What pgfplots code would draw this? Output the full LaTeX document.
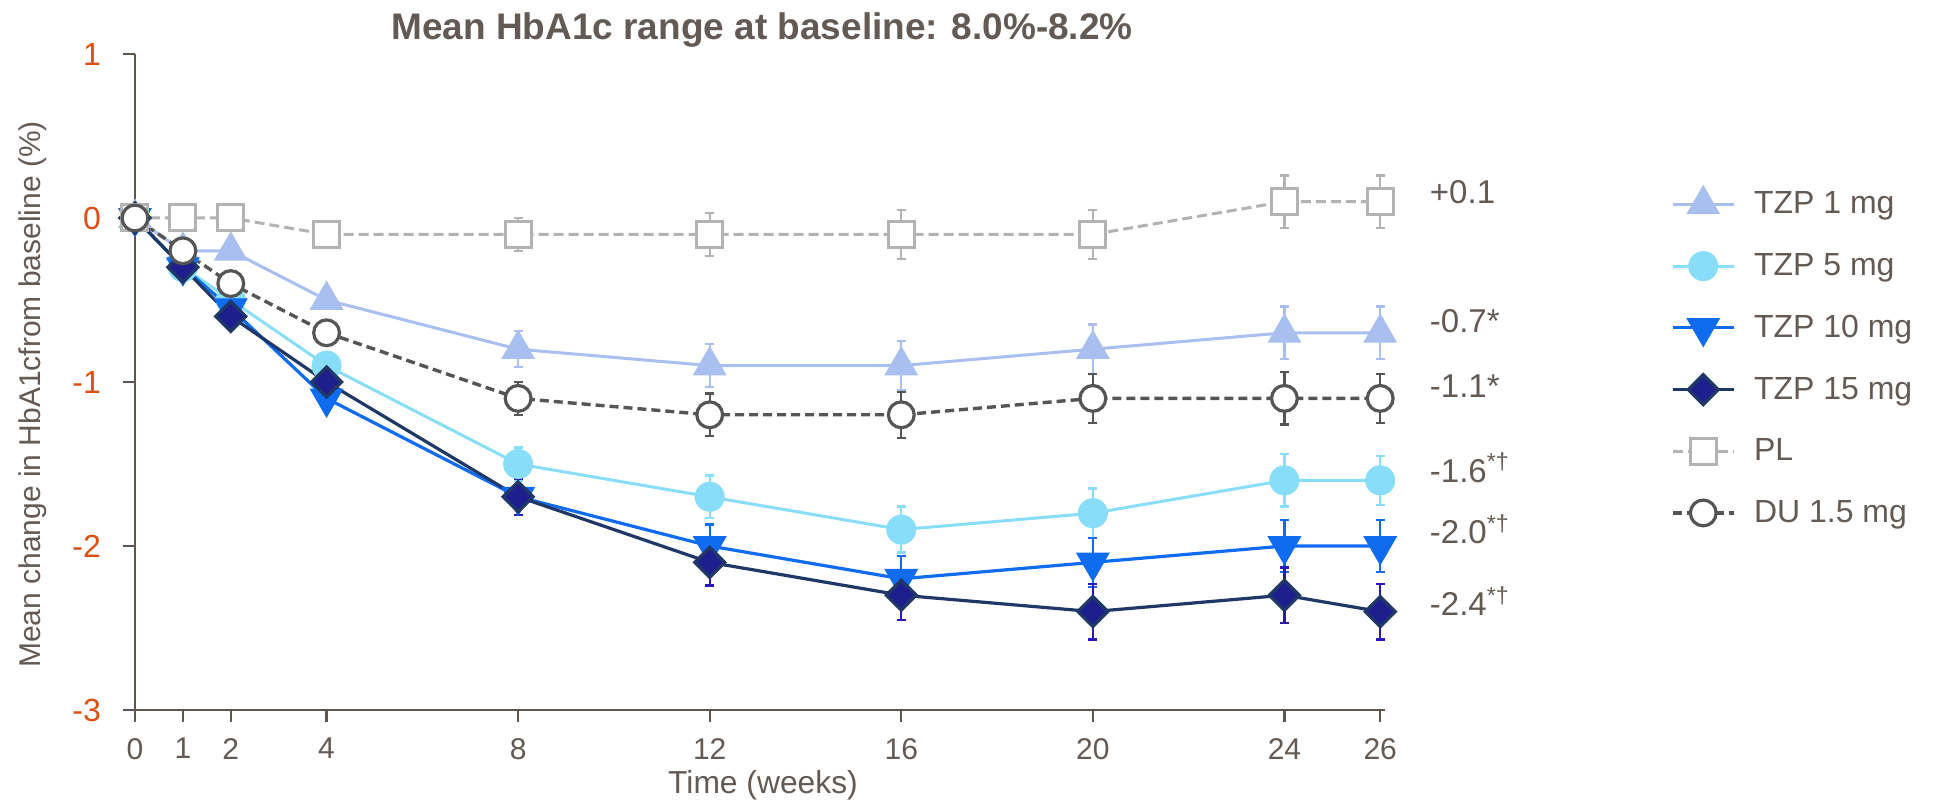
\documentclass[border=0pt]{standalone}
\usepackage{fontspec}
\setmainfont{Liberation Sans}
\usepackage{pgfplots}
\usepackage{pgfplotstable}
\pgfplotsset{compat=1.18}

\definecolor{txt}{HTML}{635A55}
\definecolor{axc}{HTML}{5E5550}
\definecolor{org}{HTML}{DE4E12}
\definecolor{c1}{HTML}{A9BFF0}
\definecolor{c5}{HTML}{88DDF9}
\definecolor{c10}{HTML}{0F6CF0}
\definecolor{c15}{HTML}{1E1E8E}
\definecolor{c15l}{HTML}{1F3867}
\definecolor{c15e}{HTML}{2A18B8}
\definecolor{pl}{HTML}{B3B3B3}
\definecolor{du}{HTML}{555555}

\pgfplotstableread{
x y e
0 0 0
1 -0.2 0
2 -0.2 0
4 -0.5 0
8 -0.8 0.11
12 -0.9 0.13
16 -0.9 0.15
20 -0.8 0.15
24 -0.7 0.16
26 -0.7 0.16
}\tzpA
\pgfplotstableread{
x y e
0 0 0
1 -0.3 0
2 -0.5 0
4 -0.9 0
8 -1.5 0.10
12 -1.7 0.13
16 -1.9 0.14
20 -1.8 0.15
24 -1.6 0.16
26 -1.6 0.15
}\tzpB
\pgfplotstableread{
x y e
0 0 0
1 -0.3 0
2 -0.55 0
4 -1.1 0
8 -1.7 0.11
12 -2.0 0.13
16 -2.2 0.14
20 -2.1 0.15
24 -2.0 0.16
26 -2.0 0.16
}\tzpC
\pgfplotstableread{
x y e
0 0 0
1 -0.3 0
2 -0.6 0
4 -1.0 0
8 -1.7 0.11
12 -2.1 0.14
16 -2.3 0.15
20 -2.4 0.17
24 -2.3 0.17
26 -2.4 0.17
}\tzpD
\pgfplotstableread{
x y e
0 0 0
1 0 0
2 0 0
4 -0.1 0
8 -0.1 0.10
12 -0.1 0.13
16 -0.1 0.15
20 -0.1 0.15
24 0.1 0.16
26 0.1 0.16
}\plc
\pgfplotstableread{
x y e
0 0 0
1 -0.2 0
2 -0.4 0
4 -0.7 0
8 -1.1 0.10
12 -1.2 0.13
16 -1.2 0.14
20 -1.1 0.15
24 -1.1 0.16
26 -1.1 0.15
}\duc

\newcommand{\fs}[1]{\fontsize{#1}{1.2\dimexpr#1pt\relax}\selectfont}

\begin{document}
\begin{tikzpicture}
\begin{axis}[
  at={(0pt,0pt)}, anchor=south west,
  scale only axis, width=625pt, height=328pt,
  xmin=0, xmax=26.1, ymin=-3, ymax=1,
  axis x line*=bottom, axis y line*=left,
  axis line style={axc, line width=1.2pt},
  xtick={0,1,2,4,8,12,16,20,24,26},
  ytick={-3,-2,-1,0,1}, yticklabels={-3,-2,-1,0,1},
  tick align=outside, major tick length=6pt,
  tick style={axc, line width=1.2pt},
  xticklabel style={font=\fs{15}, text=txt, yshift=-4.5pt},
  yticklabel style={font=\fs{16}, text=org, xshift=-7.5pt},
  /pgf/number format/assume math mode=true,
  clip=false,
  legend style={at={(axis description cs:1.230,0.792)}, anchor=north west,
    draw=none, fill=none, inner sep=0pt, outer sep=0pt,
    row sep=16.85pt, column sep=10pt, font=\fs{16}, text=txt,
    nodes={inner sep=0pt}},
  legend cell align=left,
  legend image code/.code={
    \path[draw=none, fill=none] (0pt,-7pt) rectangle (30.75pt,7pt);
    \draw[overlay,mark repeat=2,mark phase=2,#1] plot coordinates {(0pt,0pt) (15.375pt,0pt) (30.75pt,0pt)};
  },
]
\addplot[c1, line width=1.5pt, mark=triangle*, mark size=9.3pt, mark options={solid, fill=c1, draw=c1, line width=0.5pt},
  error bars/.cd, y dir=both, y explicit, error bar style={c1, line width=1.2pt, solid},
  error mark options={c1, line width=1.2pt, mark size=2.25pt, rotate=90}]
  table[x=x, y=y, y error=e]{\tzpA};
\addlegendentry{TZP 1 mg}
\addplot[c5, line width=1.5pt, mark=*, mark size=7.25pt, mark options={solid, fill=c5, draw=c5, line width=0.5pt},
  error bars/.cd, y dir=both, y explicit, error bar style={c5, line width=1.2pt, solid},
  error mark options={c5, line width=1.2pt, mark size=2.25pt, rotate=90}]
  table[x=x, y=y, y error=e]{\tzpB};
\addlegendentry{TZP 5 mg}
\addplot[c10, line width=1.6pt, mark=triangle*, mark size=9.3pt, mark options={solid, rotate=180, fill=c10, draw=c10, line width=0.5pt},
  error bars/.cd, y dir=both, y explicit, error bar style={c10, line width=1.2pt, solid},
  error mark options={c10, line width=1.2pt, mark size=2.25pt, rotate=90}]
  table[x=x, y=y, y error=e]{\tzpC};
\addlegendentry{TZP 10 mg}
\addplot[c15l, line width=1.6pt, mark=square*, mark size=5.3pt, mark options={solid, rotate=45, fill=c15, draw=c15l, line width=1.6pt},
  error bars/.cd, y dir=both, y explicit, error bar style={c15e, line width=1.2pt, solid},
  error mark options={c15e, line width=1.2pt, mark size=2.25pt, rotate=90}]
  table[x=x, y=y, y error=e]{\tzpD};
\addlegendentry{TZP 15 mg}
\addplot[pl, line width=1.5pt, dash pattern=on 5pt off 2.5pt, mark=square*, mark size=6.5pt, mark options={solid, fill=white, draw=pl, line width=1.5pt},
  error bars/.cd, y dir=both, y explicit, error bar style={pl, line width=1.2pt, solid},
  error mark options={pl, line width=1.2pt, mark size=2.25pt, rotate=90}]
  table[x=x, y=y, y error=e]{\plc};
\addlegendentry{PL}
\addplot[du, line width=1.7pt, dash pattern=on 4.5pt off 2.5pt, mark=*, mark size=6.45pt, mark options={solid, fill=white, draw=du, line width=1.6pt},
  error bars/.cd, y dir=both, y explicit, error bar style={du, line width=1.2pt, solid},
  error mark options={du, line width=1.2pt, mark size=2.25pt, rotate=90}]
  table[x=x, y=y, y error=e]{\duc};
\addlegendentry{DU 1.5 mg}

\begin{scope}[every node/.style={anchor=base west, inner sep=0pt, font=\fs{16.5}, text=txt}]
\node at (axis cs:27.03,0.091) {+0.1};
\node at (axis cs:27.03,-0.698) {-0.7*};
\node at (axis cs:27.03,-1.096) {-1.1*};
\node at (axis cs:27.03,-1.613) {-1.6\textsuperscript{*†}};
\node at (axis cs:27.03,-1.986) {-2.0\textsuperscript{*†}};
\node at (axis cs:27.03,-2.426) {-2.4\textsuperscript{*†}};
\end{scope}
\end{axis}
\node[anchor=base, font=\bfseries\fs{18.5}, text=txt] at (313.5pt,335pt) {Mean HbA1c range at baseline: 8.0\%-8.2\%};
\node[anchor=base, rotate=90, font=\fs{15}, text=txt] at (-47.15pt,157.75pt) {Mean change in HbA1cfrom baseline (\%)};
\node[anchor=base, font=\fs{15.9}, text=txt] at (314pt,-42pt) {Time (weeks)};
\pgfresetboundingbox
\path[use as bounding box] (-67.5pt,-46pt) rectangle (906.5pt,355pt);
\end{tikzpicture}
\end{document}
